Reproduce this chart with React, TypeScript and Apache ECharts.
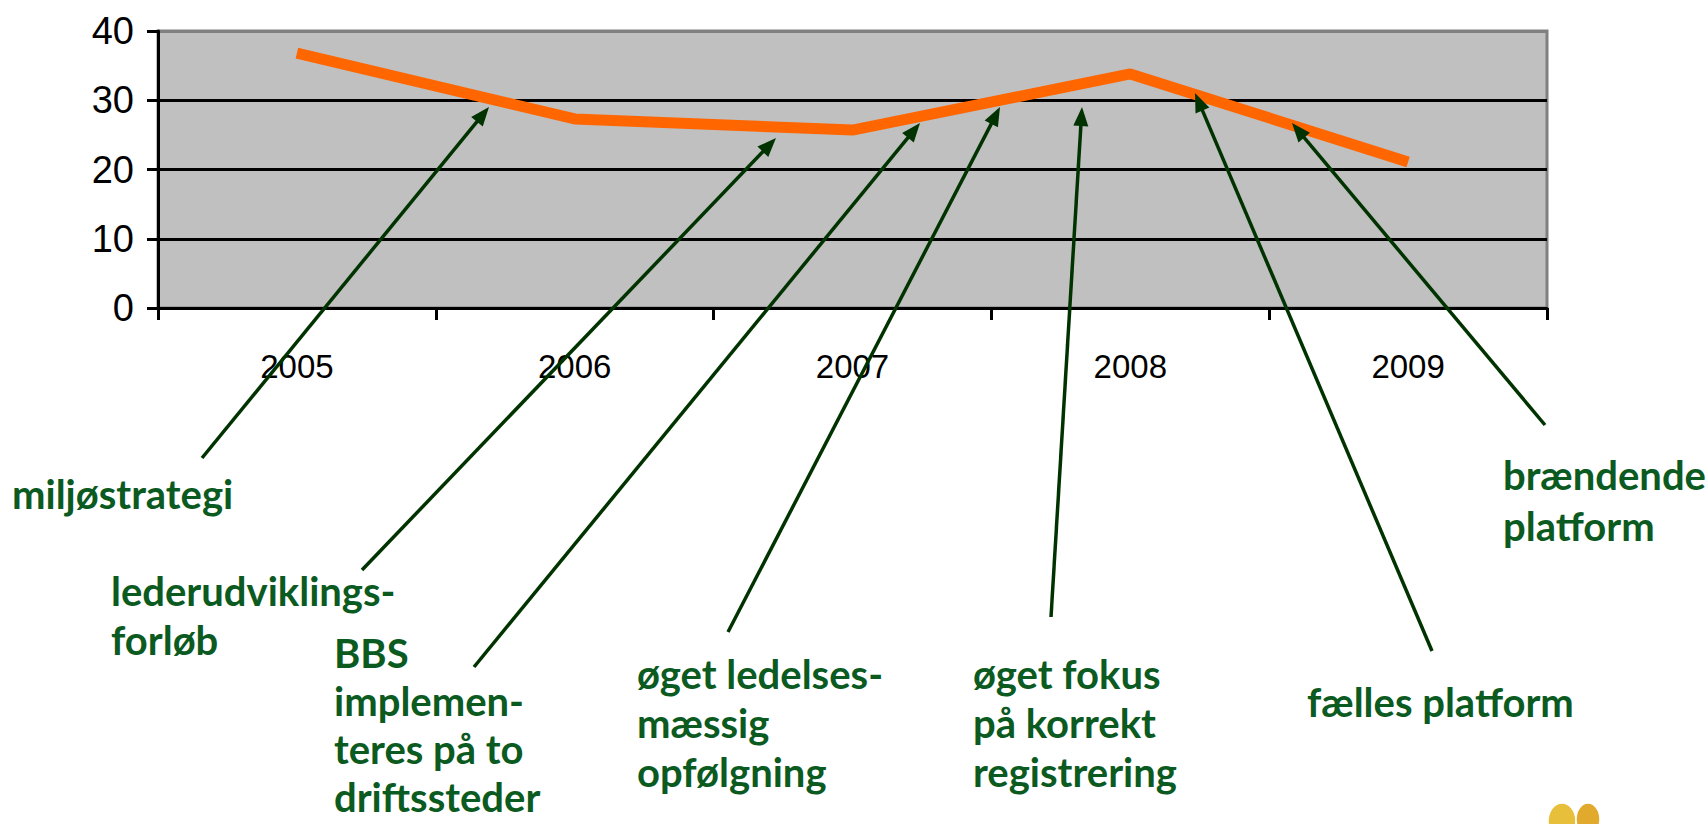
import React, { useEffect, useRef } from "react";
import * as echarts from "echarts";

// ---- data ----
const years = ["2005", "2006", "2007", "2008", "2009"];
const values = [36.8, 27.3, 25.7, 33.8, 21.1];
const yMin = 0;
const yMax = 40;
const yStep = 10;

// ---- annotation texts ----
const noteLines: string[][] = [
  ["miljøstrategi"],
  ["lederudviklings-", "forløb"],
  ["BBS", "implemen-", "teres på to", "driftssteder"],
  ["øget ledelses-", "mæssig", "opfølgning"],
  ["øget fokus", "på korrekt", "registrering"],
  ["fælles platform"],
  ["brændende", "platform"],
];

// ---- annotation layout (pixels): text left, first baseline, line gap, arrow tail, arrow tip ----
const noteLeft = [12, 111, 334, 637, 973, 1307, 1503];
const noteBaseline = [508, 605, 667, 688, 688, 716, 489];
const noteGap = [49, 49, 48, 49, 49, 49, 51];
const arrowTail: [number, number][] = [
  [202, 458], [362, 570], [474, 667], [728, 632], [1051, 617], [1432, 651], [1545, 425],
];
const arrowTip: [number, number][] = [
  [489, 107], [776, 138], [920, 123], [1000, 107], [1082, 107], [1195, 93], [1292, 123],
];

const NOTE_SIZE = 40;
const NOTE_FONT = "bold " + NOTE_SIZE + "px Lato";
const NOTE_COLOR = "#0B5A1F";
const ARROW_COLOR = "#003300";

function buildGraphics() {
  const els: any[] = [];
  noteLines.forEach((lines, i) => {
    lines.forEach((t, j) => {
      els.push({
        type: "text",
        x: noteLeft[i],
        y: noteBaseline[i] + j * noteGap[i] - NOTE_SIZE * 0.35,
        z: 20,
        style: {
          text: t,
          font: NOTE_FONT,
          fill: NOTE_COLOR,
          align: "left",
          verticalAlign: "middle",
        },
      });
    });
    const [tx, ty] = arrowTail[i];
    const [px, py] = arrowTip[i];
    const dx = px - tx;
    const dy = py - ty;
    const len = Math.sqrt(dx * dx + dy * dy);
    const ux = dx / len;
    const uy = dy / len;
    const headLen = 19;
    const headHalf = 7.5;
    const bx = px - ux * headLen;
    const by = py - uy * headLen;
    els.push({
      type: "line",
      z: 21,
      shape: { x1: tx, y1: ty, x2: bx + ux * 2, y2: by + uy * 2 },
      style: { stroke: ARROW_COLOR, lineWidth: 3.5 },
    });
    els.push({
      type: "polygon",
      z: 21,
      shape: {
        points: [
          [px, py],
          [bx - uy * headHalf, by + ux * headHalf],
          [bx + uy * headHalf, by - ux * headHalf],
        ],
      },
      style: { fill: ARROW_COLOR },
    });
  });
  // small logo at the bottom right (cut by the page edge)
  els.push({
    type: "ellipse",
    z: 5,
    shape: { cx: 1562, cy: 821, rx: 14, ry: 18 },
    style: { fill: "#E8BF3A", stroke: "#FFFFFF", lineWidth: 1.5 },
  });
  els.push({
    type: "ellipse",
    z: 5,
    shape: { cx: 1588, cy: 819, rx: 12, ry: 16 },
    style: { fill: "#E2AA2C", stroke: "#FFFFFF", lineWidth: 1.5 },
  });
  return els;
}

export default function App() {
  const ref = useRef<HTMLDivElement>(null);
  useEffect(() => {
    if (!ref.current) return;
    const chart = echarts.init(ref.current, undefined, { renderer: "svg" });
    chart.setOption({
      animation: false,
      backgroundColor: "#FFFFFF",
      grid: {
        left: 158,
        right: 161,
        top: 31,
        bottom: 516,
        show: true,
        backgroundColor: "#C0C0C0",
        borderColor: "#808080",
        borderWidth: 3,
      },
      xAxis: {
        type: "category",
        data: years,
        boundaryGap: true,
        axisLine: { show: true, lineStyle: { color: "#000000", width: 3 } },
        axisTick: {
          show: true,
          alignWithLabel: false,
          length: 12,
          lineStyle: { color: "#000000", width: 3 },
        },
        axisLabel: {
          margin: 42,
          fontSize: 33,
          fontFamily: "Liberation Sans, Arial, sans-serif",
          color: "#000000",
        },
        splitLine: { show: false },
      },
      yAxis: {
        type: "value",
        min: yMin,
        max: yMax,
        interval: yStep,
        axisLine: { show: true, lineStyle: { color: "#000000", width: 3 } },
        axisTick: {
          show: true,
          length: 11,
          lineStyle: { color: "#000000", width: 3 },
        },
        axisLabel: {
          margin: 24,
          fontSize: 38,
          fontFamily: "Liberation Sans Narrow, Arial Narrow, Liberation Sans, sans-serif",
          color: "#000000",
        },
        splitLine: {
          show: true,
          lineStyle: {
            color: ["#000000", "#000000", "#000000", "#000000", "#808080"],
            width: 3,
          },
        },
      },
      series: [
        {
          type: "line",
          data: values,
          symbol: "none",
          showSymbol: false,
          z: 3,
          lineStyle: { color: "#FF6600", width: 11, join: "bevel", cap: "butt" },
        },
      ],
      graphic: buildGraphics(),
    });
    return () => chart.dispose();
  }, []);
  return (
    <div
      ref={ref}
      style={{ position: "absolute", left: 0, top: 0, width: "1708px", height: "824px" }}
    />
  );
}
